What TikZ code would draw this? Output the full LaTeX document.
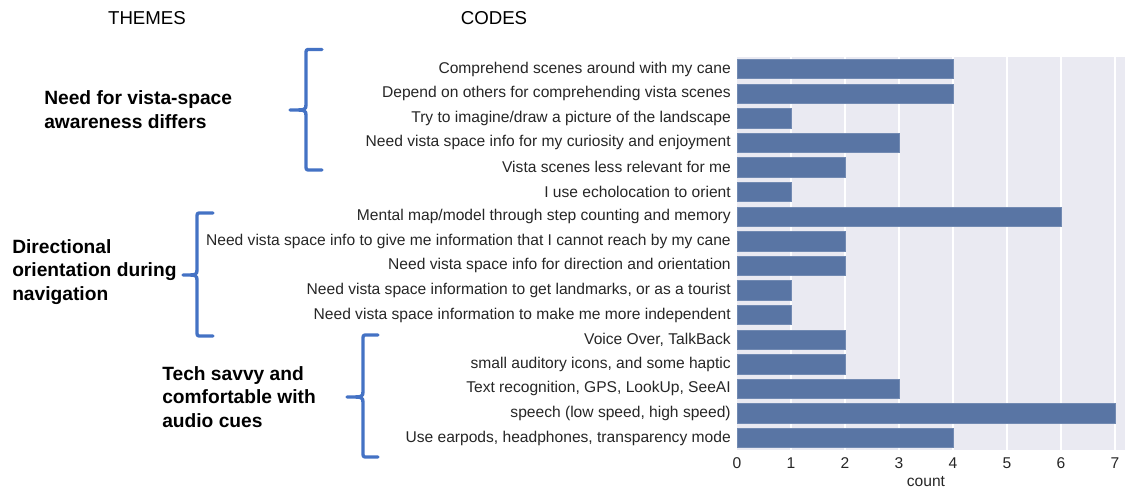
\documentclass[tikz,border=0pt]{standalone}
\usepackage{fontspec}
\setmainfont{Liberation Sans}
\definecolor{barc}{HTML}{5975A4}
\definecolor{bgc}{HTML}{EAEAF2}
\definecolor{brk}{HTML}{4472C4}
\definecolor{txt}{HTML}{262626}
\newcommand\drawbrk[6]{% vx arm tip top mid bottom
  \draw[brkline] (#2,#4) -- (#1+4,#4) .. controls (#1,#4) .. (#1,#4+5) -- (#1,#5-6)
    .. controls (#1,#5) .. (#3,#5) .. controls (#1,#5) .. (#1,#5+6) -- (#1,#6-5)
    .. controls (#1,#6) .. (#1+4,#6) -- (#2,#6);}
\begin{document}
\begin{tikzpicture}[x=0.75pt,y=-0.75pt,
  lab/.style={anchor=east,inner sep=0pt,text=txt,font=\fontsize{11.7pt}{14pt}\selectfont},
  tick/.style={inner sep=0pt,text=txt,font=\fontsize{11.7pt}{14pt}\selectfont},
  theme/.style={anchor=west,inner sep=0pt,align=left,font=\fontsize{14.4pt}{17.6pt}\selectfont\bfseries},
  head/.style={inner sep=0pt,font=\fontsize{14pt}{17pt}\selectfont},
  barbox/.style={anchor=west,inner sep=0pt,minimum height=14.6pt,fill=barc,draw=barc!85!white,line width=0.5pt},
  brkline/.style={draw=brk,line width=2.5pt,line cap=round,line join=round}]
\useasboundingbox (0,0) rectangle (1125,491);
% plot background and grid
\fill[bgc] (737,56.7) rectangle (1125,450.3);
\foreach \k in {1,...,7}{\draw[white,line width=0.9pt] (737+54*\k,56.7) -- (737+54*\k,450.3);}
% bars
\foreach \v [count=\i from 0] in {4,4,1,3,2,1,6,2,2,1,1,2,2,3,7,4}{
  \node[barbox,minimum width=\v*54*0.75pt] (b\i) at (737,69+24.6*\i) {};}
% code labels
\node[lab] (c0) at (731,69) {Comprehend scenes around with my cane};
\node[lab] (c1) at (731,93.6) {Depend on others for comprehending vista scenes};
\node[lab] (c2) at (731,118.2) {Try to imagine/draw a picture of the landscape};
\node[lab] (c3) at (731,142.8) {Need vista space info for my curiosity and enjoyment};
\node[lab] (c4) at (731,167.4) {Vista scenes less relevant for me};
\node[lab] (c5) at (731,192) {I use echolocation to orient};
\node[lab] (c6) at (731,216.6) {Mental map/model through step counting and memory};
\node[lab] (c7) at (731,241.2) {Need vista space info to give me information that I cannot reach by my cane};
\node[lab] (c8) at (731,265.8) {Need vista space info for direction and orientation};
\node[lab] (c9) at (731,290.4) {Need vista space information to get landmarks, or as a tourist};
\node[lab] (c10) at (731,315) {Need vista space information to make me more independent};
\node[lab] (c11) at (731,339.6) {Voice Over, TalkBack};
\node[lab] (c12) at (731,364.2) {small auditory icons, and some haptic};
\node[lab] (c13) at (731,388.8) {Text recognition, GPS, LookUp, SeeAI};
\node[lab] (c14) at (731,413.4) {speech (low speed, high speed)};
\node[lab] (c15) at (731,438) {Use earpods, headphones, transparency mode};
% ticks
\foreach \k in {0,...,7}{\node[tick] (t\k) at (737+54*\k,463) {\k};}
\node[tick] (xl) at (926,482) {count};
% headers
\node[head] (hthemes) at (147,18) {THEMES};
\node[head] (hcodes) at (494,18) {CODES};
% themes
\node[theme] (th1) at (44,109.5) {Need for vista-space\\awareness differs};
\node[theme] (th2) at (12,272) {Directional\\orientation during\\navigation};
\node[theme] (th3) at (162,397) {Tech savvy and\\comfortable with\\audio cues};
% brackets
\drawbrk{306}{322}{290}{49.5}{110}{170}
\drawbrk{197}{213}{183}{213}{275}{336}
\drawbrk{363}{378}{347}{335}{397}{457}
\end{tikzpicture}
\end{document}
